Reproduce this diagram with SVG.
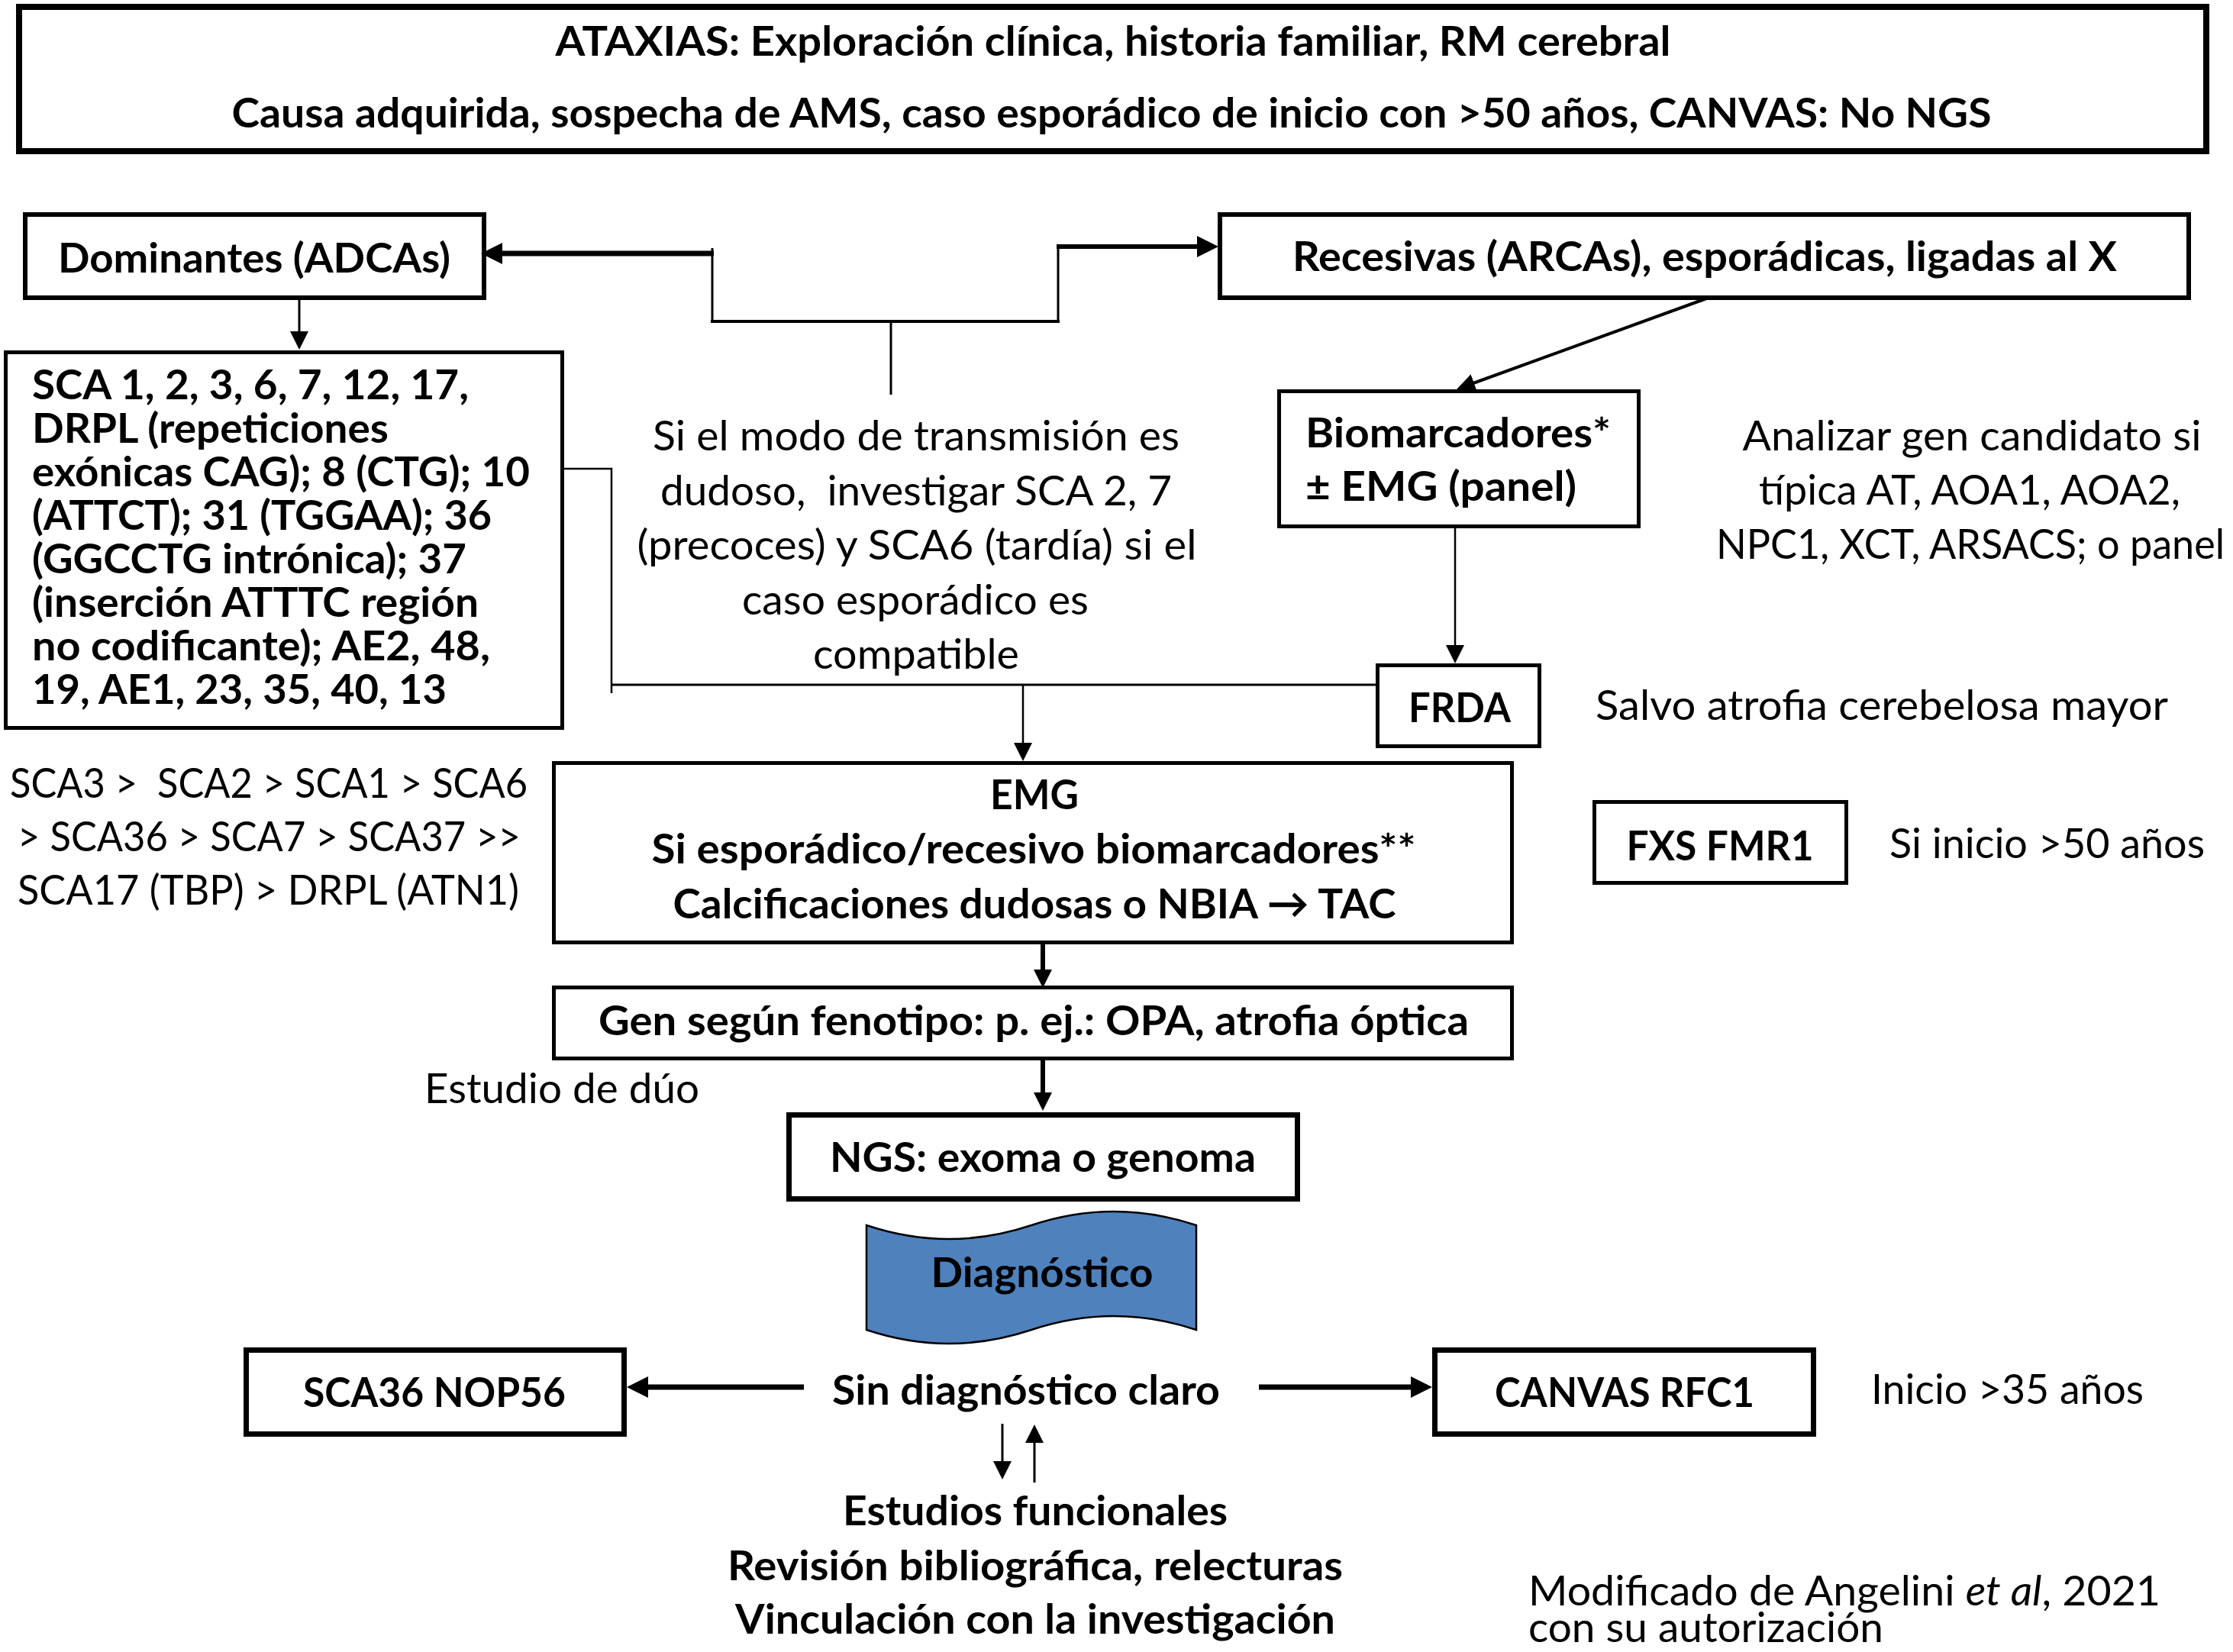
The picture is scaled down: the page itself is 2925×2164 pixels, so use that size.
<svg xmlns="http://www.w3.org/2000/svg" width="2925" height="2164" viewBox="0 0 2925 2164">
<style>
.b{font-family:Lato,"Liberation Sans","DejaVu Sans",sans-serif;font-weight:700;font-size:54px;fill:#000}
.r{font-family:Lato,"Liberation Sans","DejaVu Sans",sans-serif;font-weight:400;font-size:54px;fill:#000}
.box{fill:#fff;stroke:#000}
.ln{fill:none;stroke:#000}
</style>
<defs>
<marker id="ahS" markerUnits="userSpaceOnUse" markerWidth="24" markerHeight="24" refX="4" refY="12" orient="auto"><path d="M0,0 L24,12 L0,24 z" fill="#000"/></marker>
<marker id="ahL" markerUnits="userSpaceOnUse" markerWidth="28" markerHeight="28" refX="6" refY="14" orient="auto"><path d="M0,0 L28,14 L0,28 z" fill="#000"/></marker>
</defs>
<rect width="2925" height="2164" fill="#fff"/>

<g id="top">
<rect class="box" x="25" y="9" width="2865" height="189" stroke-width="8"/>
<text class="b" x="1458" y="73" text-anchor="middle" textLength="1461" lengthAdjust="spacingAndGlyphs">ATAXIAS: Exploración clínica, historia familiar, RM cerebral</text>
<text class="b" x="1456" y="167" text-anchor="middle" textLength="2305" lengthAdjust="spacingAndGlyphs">Causa adquirida, sospecha de AMS, caso esporádico de inicio con &gt;50 años, CANVAS: No NGS</text>
</g>

<g id="dominantes">
<rect class="box" x="33" y="281" width="601" height="109" stroke-width="6"/>
<text class="b" x="76" y="357" textLength="514" lengthAdjust="spacingAndGlyphs">Dominantes (ADCAs)</text>
</g>

<g id="recesivas">
<rect class="box" x="1598" y="281" width="1269" height="109" stroke-width="6"/>
<text class="b" x="1693" y="355" textLength="1080" lengthAdjust="spacingAndGlyphs">Recesivas (ARCAs), esporádicas, ligadas al X</text>
</g>

<g id="sca">
<rect class="box" x="7.5" y="461.5" width="729" height="492" stroke-width="5"/>
<text class="b" x="42" y="523" textLength="572" lengthAdjust="spacingAndGlyphs">SCA 1, 2, 3, 6, 7, 12, 17,</text>
<text class="b" x="42" y="580" textLength="467" lengthAdjust="spacingAndGlyphs">DRPL (repeticiones</text>
<text class="b" x="42" y="637" textLength="652" lengthAdjust="spacingAndGlyphs">exónicas CAG); 8 (CTG); 10</text>
<text class="b" x="42" y="694" textLength="602" lengthAdjust="spacingAndGlyphs">(ATTCT); 31 (TGGAA); 36</text>
<text class="b" x="42" y="751" textLength="569" lengthAdjust="spacingAndGlyphs">(GGCCTG intrónica); 37</text>
<text class="b" x="42" y="808" textLength="585" lengthAdjust="spacingAndGlyphs">(inserción ATTTC región</text>
<text class="b" x="42" y="865" textLength="600" lengthAdjust="spacingAndGlyphs">no codificante); AE2, 48,</text>
<text class="b" x="42" y="922" textLength="543" lengthAdjust="spacingAndGlyphs">19, AE1, 23, 35, 40, 13</text>
</g>

<g id="modo">
<text class="r" x="1200" y="590" text-anchor="middle" textLength="690" lengthAdjust="spacingAndGlyphs">Si el modo de transmisión es</text>
<text class="r" x="1200" y="662" text-anchor="middle" textLength="670" lengthAdjust="spacingAndGlyphs" xml:space="preserve">dudoso,  investigar SCA 2, 7</text>
<text class="r" x="1201" y="733" text-anchor="middle" textLength="733" lengthAdjust="spacingAndGlyphs">(precoces) y SCA6 (tardía) si el</text>
<text class="r" x="1199" y="805" text-anchor="middle" textLength="454" lengthAdjust="spacingAndGlyphs">caso esporádico es</text>
<text class="r" x="1200" y="876" text-anchor="middle" textLength="270" lengthAdjust="spacingAndGlyphs">compatible</text>
</g>

<g id="biomarcadores">
<rect class="box" x="1675.5" y="512.5" width="471" height="177" stroke-width="5"/>
<text class="b" x="1710" y="586" textLength="400" lengthAdjust="spacingAndGlyphs">Biomarcadores*</text>
<text class="b" x="1710" y="656" textLength="355" lengthAdjust="spacingAndGlyphs">± EMG (panel)</text>
</g>

<g id="analizar">
<text class="r" x="2583" y="590" text-anchor="middle" textLength="601" lengthAdjust="spacingAndGlyphs">Analizar gen candidato si</text>
<text class="r" x="2580" y="661" text-anchor="middle" textLength="552" lengthAdjust="spacingAndGlyphs">típica AT, AOA1, AOA2,</text>
<text class="r" x="2581" y="732" text-anchor="middle" textLength="666" lengthAdjust="spacingAndGlyphs">NPC1, XCT, ARSACS; o panel</text>
</g>

<g id="frda">
<rect class="box" x="1804.5" y="871.5" width="212" height="106" stroke-width="5"/>
<text class="b" x="1912" y="946" text-anchor="middle" textLength="134" lengthAdjust="spacingAndGlyphs">FRDA</text>
</g>
<g id="salvo">
<text class="r" x="2090" y="943" textLength="750" lengthAdjust="spacingAndGlyphs">Salvo atrofia cerebelosa mayor</text>
</g>

<g id="emg">
<rect class="box" x="725.5" y="999.5" width="1255" height="235" stroke-width="5"/>
<text class="b" x="1355" y="1060" text-anchor="middle" textLength="116" lengthAdjust="spacingAndGlyphs">EMG</text>
<text class="b" x="1354" y="1131" text-anchor="middle" textLength="1001" lengthAdjust="spacingAndGlyphs">Si esporádico/recesivo biomarcadores**</text>
<text class="b" x="1355" y="1203" text-anchor="middle" textLength="947" lengthAdjust="spacingAndGlyphs">Calcificaciones dudosas o NBIA → TAC</text>
</g>

<g id="fxs">
<rect class="box" x="2088.5" y="1050.5" width="330" height="106" stroke-width="5"/>
<text class="b" x="2253" y="1127" text-anchor="middle" textLength="245" lengthAdjust="spacingAndGlyphs">FXS FMR1</text>
</g>
<g id="inicio50">
<text class="r" x="2475" y="1124" textLength="413" lengthAdjust="spacingAndGlyphs">Si inicio &gt;50 años</text>
</g>

<g id="ranking">
<text class="r" x="13" y="1045" textLength="678" lengthAdjust="spacingAndGlyphs" xml:space="preserve">SCA3 &gt;  SCA2 &gt; SCA1 &gt; SCA6</text>
<text class="r" x="23" y="1115" textLength="659" lengthAdjust="spacingAndGlyphs">&gt; SCA36 &gt; SCA7 &gt; SCA37 &gt;&gt;</text>
<text class="r" x="23" y="1185" textLength="657" lengthAdjust="spacingAndGlyphs">SCA17 (TBP) &gt; DRPL (ATN1)</text>
</g>

<g id="gen">
<rect class="box" x="725.5" y="1293.5" width="1255" height="93" stroke-width="5"/>
<text class="b" x="1354" y="1356" text-anchor="middle" textLength="1140" lengthAdjust="spacingAndGlyphs">Gen según fenotipo: p. ej.: OPA, atrofia óptica</text>
</g>

<g id="duo">
<text class="r" x="556" y="1445" textLength="360" lengthAdjust="spacingAndGlyphs">Estudio de dúo</text>
</g>

<g id="ngs">
<rect class="box" x="1033.5" y="1460.5" width="666" height="110" stroke-width="7"/>
<text class="b" x="1366" y="1535" text-anchor="middle" textLength="558" lengthAdjust="spacingAndGlyphs">NGS: exoma o genoma</text>
</g>

<g id="diagnostico">
<path d="M1135,1605 Q1243,1641 1351,1605 Q1459,1569 1567,1605 L1567,1742 Q1459,1706 1351,1742 Q1243,1778 1135,1742 Z" fill="#4F81BD" stroke="#000" stroke-width="2.5"/>
<text class="b" x="1365" y="1686" text-anchor="middle" textLength="291" lengthAdjust="spacingAndGlyphs">Diagnóstico</text>
</g>

<g id="sca36">
<rect class="box" x="322.5" y="1768.5" width="495" height="110" stroke-width="7"/>
<text class="b" x="569" y="1843" text-anchor="middle" textLength="344" lengthAdjust="spacingAndGlyphs">SCA36 NOP56</text>
</g>

<g id="sindiag">
<text class="b" x="1344" y="1840" text-anchor="middle" textLength="508" lengthAdjust="spacingAndGlyphs">Sin diagnóstico claro</text>
</g>

<g id="canvas">
<rect class="box" x="1879.5" y="1768.5" width="496" height="110" stroke-width="7"/>
<text class="b" x="2128" y="1843" text-anchor="middle" textLength="340" lengthAdjust="spacingAndGlyphs">CANVAS RFC1</text>
</g>
<g id="inicio35">
<text class="r" x="2451" y="1839" textLength="357" lengthAdjust="spacingAndGlyphs">Inicio &gt;35 años</text>
</g>

<g id="estudios">
<text class="b" x="1356" y="1998" text-anchor="middle" textLength="504" lengthAdjust="spacingAndGlyphs">Estudios funcionales</text>
<text class="b" x="1356" y="2070" text-anchor="middle" textLength="806" lengthAdjust="spacingAndGlyphs">Revisión bibliográfica, relecturas</text>
<text class="b" x="1356" y="2140" text-anchor="middle" textLength="786" lengthAdjust="spacingAndGlyphs">Vinculación con la investigación</text>
</g>

<g id="credito">
<text class="r" x="2002" y="2103" textLength="828" lengthAdjust="spacingAndGlyphs">Modificado de Angelini <tspan font-style="italic">et al</tspan>, 2021</text>
<text class="r" x="2002" y="2151" textLength="465" lengthAdjust="spacingAndGlyphs">con su autorización</text>
</g>

<g id="connectors">
<line class="ln" x1="1167" y1="421" x2="1167" y2="517" stroke-width="3"/>
<line class="ln" x1="931" y1="421" x2="1388" y2="421" stroke-width="4"/>
<line class="ln" x1="933" y1="325" x2="933" y2="421" stroke-width="3"/>
<line class="ln" x1="1386" y1="321" x2="1386" y2="421" stroke-width="3"/>
<line class="ln" x1="935" y1="332" x2="652" y2="332" stroke-width="7" marker-end="url(#ahL)"/>
<line class="ln" x1="1384" y1="323" x2="1574" y2="323" stroke-width="6" marker-end="url(#ahL)"/>
<line class="ln" x1="392" y1="390" x2="392" y2="438" stroke-width="3" marker-end="url(#ahS)"/>
<line class="ln" x1="2238" y1="390" x2="1927" y2="503" stroke-width="4" marker-end="url(#ahS)"/>
<line class="ln" x1="1906" y1="692" x2="1906" y2="849" stroke-width="2.5" marker-end="url(#ahS)"/>
<polyline class="ln" points="737,614 801,614 801,908" stroke-width="2.5"/>
<line class="ln" x1="801" y1="897" x2="1803" y2="897" stroke-width="3"/>
<line class="ln" x1="1340" y1="897" x2="1340" y2="977" stroke-width="2.5" marker-end="url(#ahS)"/>
<line class="ln" x1="1366" y1="1236" x2="1366" y2="1274" stroke-width="6" marker-end="url(#ahS)"/>
<line class="ln" x1="1366" y1="1388" x2="1366" y2="1435" stroke-width="6" marker-end="url(#ahS)"/>
<line class="ln" x1="1053" y1="1817" x2="843" y2="1817" stroke-width="7" marker-end="url(#ahL)"/>
<line class="ln" x1="1649" y1="1817" x2="1854" y2="1817" stroke-width="7" marker-end="url(#ahL)"/>
<line class="ln" x1="1313" y1="1865" x2="1313" y2="1918" stroke-width="3" marker-end="url(#ahS)"/>
<line class="ln" x1="1355" y1="1942" x2="1355" y2="1886" stroke-width="3" marker-end="url(#ahS)"/>
</g>
</svg>
